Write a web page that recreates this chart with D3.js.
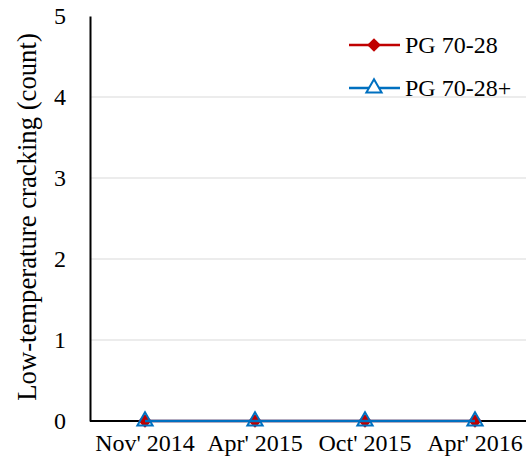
<!DOCTYPE html>
<html><head><meta charset="utf-8">
<script src="https://cdn.jsdelivr.net/npm/d3@7"></script>
<style>body{margin:0;background:#fff}svg{display:block}text{font-family:"Liberation Serif","Times New Roman",serif}</style>
</head><body><svg id="c" width="526" height="466"></svg>
<script>
const categories = ["Nov' 2014","Apr' 2015","Oct' 2015","Apr' 2016"];
const seriesNames = ["PG 70-28","PG 70-28+"];
const pg7028 = [0,0,0,0];
const pg7028plus = [0,0,0,0];
const yTicks = [0,1,2,3,4,5];

const svg = d3.select("#c");
const m = {l:90, t:16, r:530, b:421};
const x = d3.scaleBand().domain(categories).range([m.l, m.r]);
const y = d3.scaleLinear().domain([0,5]).range([m.b, m.t]);

svg.append("g").selectAll("line").data(yTicks.filter(d=>d>0&&d<5)).join("line")
  .attr("x1", m.l).attr("x2", 526).attr("y1", d=>y(d)).attr("y2", d=>y(d))
  .attr("stroke", "#d9d9d9").attr("stroke-width", 1);

const ya = svg.append("g").attr("transform", `translate(${m.l},0)`)
  .call(d3.axisLeft(y).tickValues(yTicks).tickSize(0).tickPadding(24).tickFormat(d3.format("d")));
ya.select(".domain").attr("stroke", "#000").attr("stroke-width", 2);
ya.selectAll("text").attr("font-size", 24).attr("fill", "#000").attr("font-family","Liberation Serif");

const xa = svg.append("g").attr("transform", `translate(0,${m.b})`)
  .call(d3.axisBottom(x).tickSize(0).tickPadding(13));
xa.select(".domain").attr("d", `M${m.l},0H526`).attr("stroke", "#000").attr("stroke-width", 2);
xa.selectAll("text").attr("font-size", 24).attr("fill", "#000").attr("font-family","Liberation Serif");

svg.append("text").attr("transform", `translate(27,${217}) rotate(-90)`)
  .attr("text-anchor", "middle").attr("dominant-baseline","central").attr("font-size", 26.7).text("Low-temperature cracking (count)");

const cx = d => x(d) + x.bandwidth()/2;
const line = d3.line().x((d,i)=>cx(categories[i])).y(d=>y(d));

const red = "#c00000", blue = "#0070c0";
const diamond = d3.symbol().type(d3.symbolDiamond2).size(120);
const tri = d3.symbol().type(d3.symbolTriangle).size(100);

svg.append("path").datum(pg7028).attr("d", line).attr("fill","none").attr("stroke", red).attr("stroke-width", 2.5);
svg.append("g").selectAll("path").data(pg7028).join("path")
  .attr("d", diamond).attr("transform",(d,i)=>`translate(${cx(categories[i])},${y(d)})`).attr("fill", red);
svg.append("path").datum(pg7028plus).attr("d", line).attr("fill","none").attr("stroke", blue).attr("stroke-width", 2.5);
svg.append("g").selectAll("path").data(pg7028plus).join("path")
  .attr("d", tri).attr("transform",(d,i)=>`translate(${cx(categories[i])},${y(d)})`)
  .attr("fill","none").attr("stroke", blue).attr("stroke-width", 2);

const leg = [{name:seriesNames[0], c:red, sym:diamond, fill:red, stroke:"none"},
             {name:seriesNames[1], c:blue, sym:tri, fill:"#fff", stroke:blue}];
const lg = svg.append("g").selectAll("g").data(leg).join("g")
  .attr("transform",(d,i)=>`translate(349,${45+i*43})`);
lg.append("line").attr("x1",0).attr("x2",51).attr("stroke",d=>d.c).attr("stroke-width",2.5);
lg.append("path").attr("d",d=>d.sym()).attr("transform","translate(25,0)")
  .attr("fill",d=>d.fill).attr("stroke",d=>d.stroke).attr("stroke-width",2);
lg.append("text").attr("x",56).attr("dominant-baseline","central").attr("font-size",24).text(d=>d.name);
</script></body></html>
